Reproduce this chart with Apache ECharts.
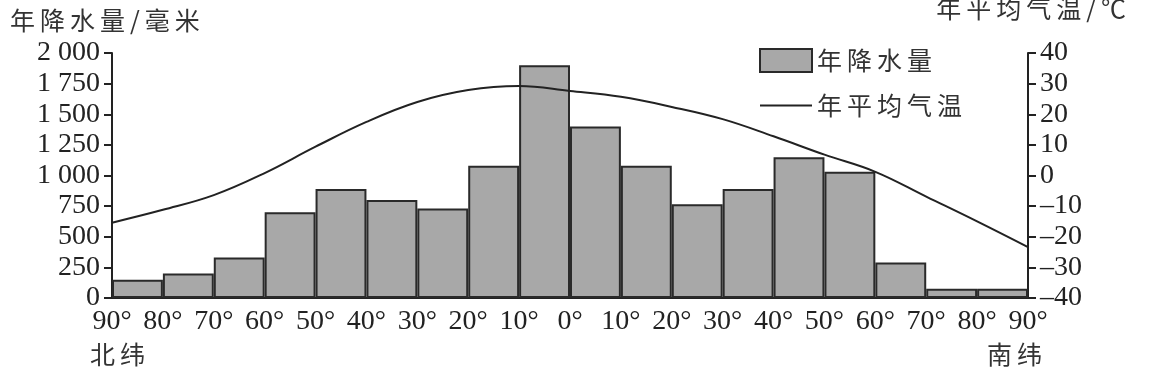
<!DOCTYPE html>
<html><head><meta charset="utf-8">
<script src="https://cdn.jsdelivr.net/npm/echarts@6/dist/echarts.min.js"></script>
<style>html,body{margin:0;padding:0;background:#fff}#c{width:1150px;height:373px}</style>
</head><body><div id="c"></div>
<script>
// 18 latitude bands from 90°N to 90°S
const bands = ['90-80N','80-70N','70-60N','60-50N','50-40N','40-30N','30-20N','20-10N','10-0N',
               '0-10S','10-20S','20-30S','30-40S','40-50S','50-60S','60-70S','70-80S','80-90S'];
const precipitation = [150, 200, 330, 700, 890, 800, 730, 1080, 1900, 1400, 1080, 765, 890, 1150, 1030, 290, 75, 75];
// latitude positions (0 = 90°N ... 180 = 90°S) and temperature values
const tempPos = [0, 10, 20, 30, 40, 50, 60, 70, 80, 90, 100, 110, 120, 130, 140, 150, 160, 170, 180];
const temperature = [-15.4, -11.2, -6.4, 0.8, 9.4, 17.5, 24, 27.9, 29.2, 27.6, 25.7, 22.4, 18.4, 12.8, 6.8, 1.2, -6.9, -15, -23.4];
const xTickLabels = ['90°','80°','70°','60°','50°','40°','30°','20°','10°','0°','10°','20°','30°','40°','50°','60°','70°','80°','90°'];
const leftTicks = ['0','250','500','750','1 000','1 250','1 500','1 750','2 000'];

const serif = '"Liberation Serif","DejaVu Serif",serif';
const cjk = '"Noto Sans CJK SC",sans-serif';
const ink = '#222';
const spaced = (s)=>s.split('').join('\u2009');

const chart = echarts.init(document.getElementById('c'), null, {renderer:'canvas'});
chart.setOption({
  backgroundColor:'#fff',
  animation:false,
  grid:{left:112, right:122, top:53, bottom:75},
  legend:{
    left:759, top:48, orient:'vertical', itemWidth:52, itemHeight:23, itemGap:20, padding:0,
    textStyle:{fontFamily:cjk, fontSize:25, color:'#333'},
    formatter:(n)=>spaced(n),
    data:[{name:'年降水量', icon:'rect'},
          {name:'年平均气温', icon:'path://M0,11 L52,11 L52,13 L0,13 Z'}]
  },
  xAxis:[
    {type:'category', data:bands, boundaryGap:true, show:false},
    {type:'value', min:0, max:180, interval:10, position:'bottom',
     axisLine:{show:true, onZero:false, lineStyle:{color:ink, width:2}},
     axisTick:{show:false}, splitLine:{show:false},
     axisLabel:{color:'#222', fontFamily:serif, fontSize:28, margin:10,
       formatter:(v)=>xTickLabels[Math.round(v/10)]}}
  ],
  yAxis:[
    {type:'value', min:0, max:2000, interval:250,
     axisLine:{show:true, lineStyle:{color:ink, width:2}},
     axisTick:{show:true, length:8, lineStyle:{color:ink, width:2}},
     splitLine:{show:false},
     axisLabel:{color:'#222', fontFamily:serif, fontSize:28, margin:12,
       formatter:(v)=>leftTicks[Math.round(v/250)]}},
    {type:'value', min:-40, max:40, interval:10, position:'right',
     axisLine:{show:true, lineStyle:{color:ink, width:2}},
     axisTick:{show:true, length:8, lineStyle:{color:ink, width:2}},
     splitLine:{show:false},
     axisLabel:{color:'#222', fontFamily:serif, fontSize:28, margin:12,
       formatter:(v)=> v<0 ? '–'+Math.abs(v) : String(v)}}
  ],
  series:[
    {name:'年降水量', type:'bar', xAxisIndex:0, yAxisIndex:0, data:precipitation,
     barCategoryGap:'0%',
     itemStyle:{color:'#a8a8a8', borderColor:'#2a2a2a', borderWidth:2}},
    {name:'年平均气温', type:'line', xAxisIndex:1, yAxisIndex:1, smooth:0.4,
     symbol:'none', data:tempPos.map((p,i)=>[p, temperature[i]]),
     lineStyle:{color:'#222', width:2}, itemStyle:{color:'#222'}, z:5}
  ],
  graphic:[
    {type:'text', left:10, top:8, style:{text:spaced('年降水量/毫米'), font:'25px '+cjk, fill:'#333'}},
    {type:'text', right:24, top:-4, style:{text:spaced('年平均气温/℃'), font:'25px '+cjk, fill:'#333'}},
    {type:'text', left:90, top:342, style:{text:spaced('北纬'), font:'25px '+cjk, fill:'#333'}},
    {type:'text', left:987, top:342, style:{text:spaced('南纬'), font:'25px '+cjk, fill:'#333'}}
  ]
});
</script></body></html>
